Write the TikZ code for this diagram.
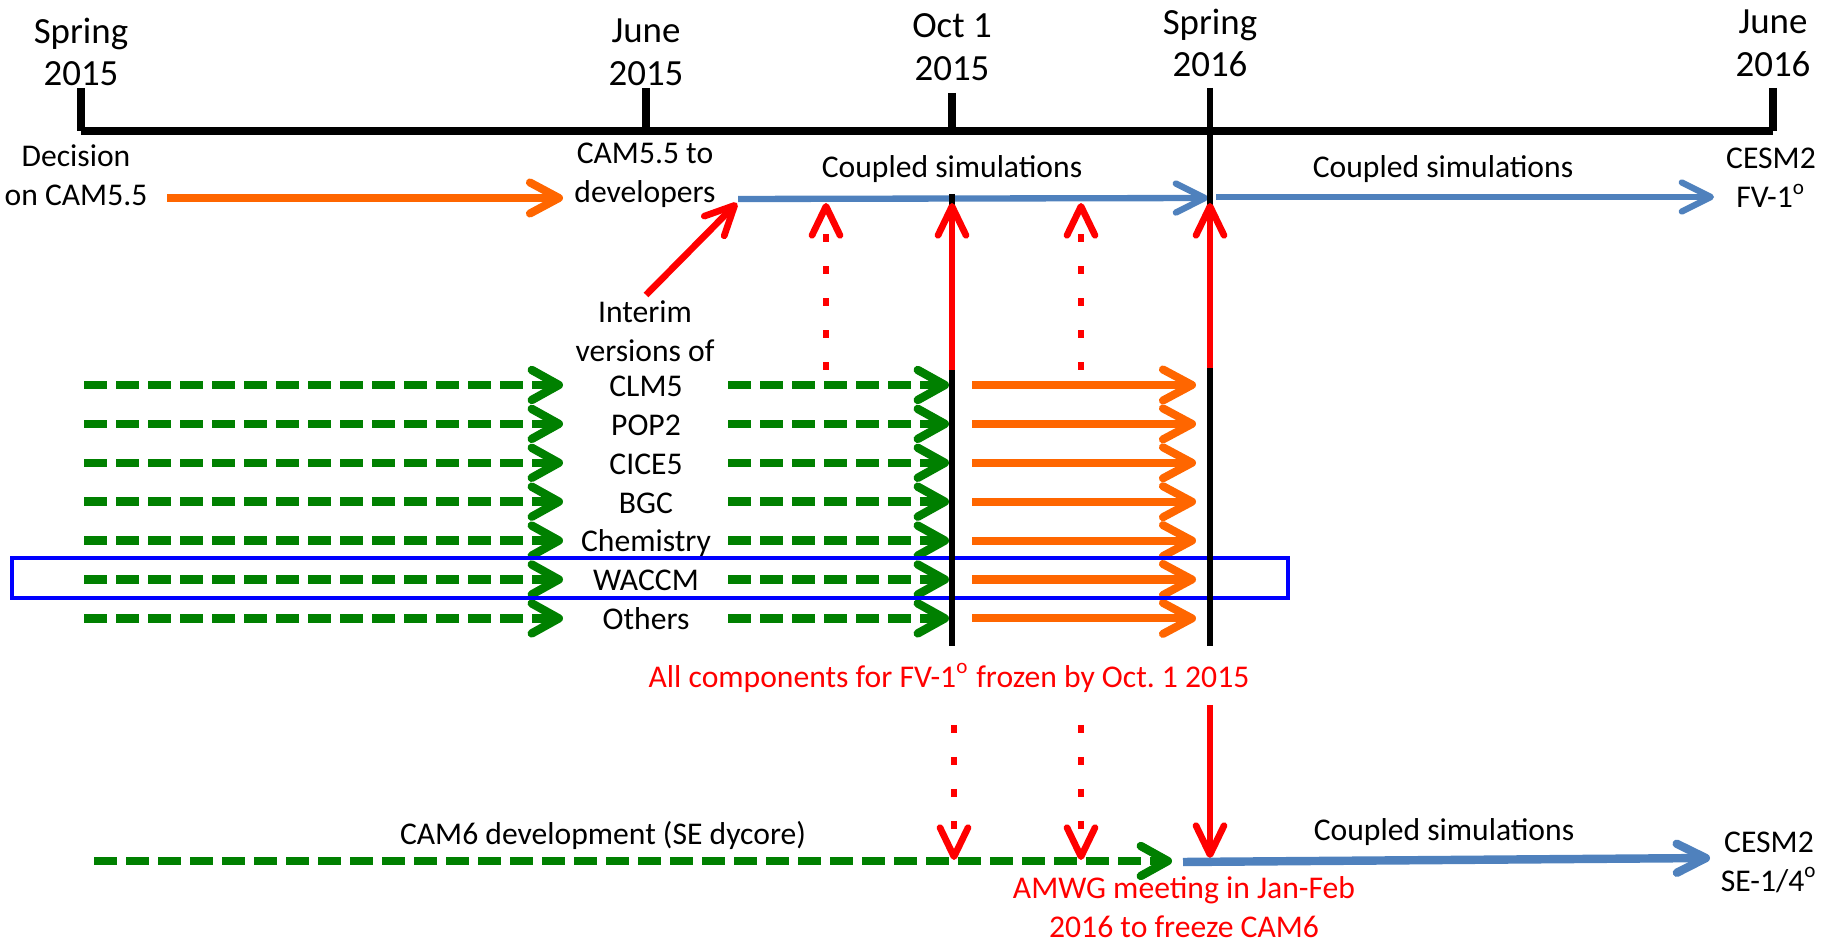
\documentclass[tikz,border=0pt]{standalone}
\usepackage{fontspec}
\setmainfont{Carlito}
\usepackage{tikz}
\usetikzlibrary{arrows.meta,calc}
\definecolor{cesmorange}{HTML}{FF6600}
\definecolor{cesmgreen}{HTML}{008000}
\definecolor{cesmblue}{HTML}{4F81BD}
\definecolor{cesmred}{HTML}{FF0000}
\definecolor{cesmbox}{HTML}{0000FF}
\frenchspacing
\tikzset{
  datelbl/.style={align=center, inner sep=0pt, font=\fontsize{10.5}{12.2}\selectfont},
  txt/.style={align=center, inner sep=0pt, font=\fontsize{9}{11.1}\selectfont},
  rowlbl/.style={txt, text height=0.644em, text depth=0pt},
  redtxt/.style={txt, text=cesmred},
  timeline/.style={line width=2.1pt, black},
  tickline/.style={line width=2.1pt, black},
  stem/.style={line width=1.8pt, black},
  devflow/.style={draw=cesmgreen, line width=2.4pt, dash pattern=on 2.3mm off 0.9mm, -{Straight Barb[length=2.7mm, width=3mm, round]}},
  relflow/.style={draw=cesmorange, line width=2.3pt, -{Straight Barb[length=2.9mm, width=3.1mm, round]}},
  simflow/.style={draw=cesmblue, line width=1.8pt, -{Straight Barb[length=2.9mm, width=2.9mm, round]}},
  freeze/.style={draw=cesmred, line width=1.9pt, -{Straight Barb[length=2.9mm, width=2.8mm, round]}},
  feed/.style={freeze, dash pattern=on 0.8mm off 2.4mm},
  focusbox/.style={draw=cesmbox, line width=1.1pt},
}
\begin{document}
\begin{tikzpicture}[x=0.1mm, y=-0.1mm]
  \useasboundingbox (0,0) rectangle (1837,944);
  \coordinate (spa) at (81,131);
  \coordinate (jna) at (646,131);
  \coordinate (oct) at (952,131);
  \coordinate (spb) at (1210,131);
  \coordinate (jnb) at (1773,131);
  \coordinate (spa top) at (81,88);
  \coordinate (jna top) at (646,88);
  \coordinate (oct top) at (952,93);
  \coordinate (spb top) at (1210,88);
  \coordinate (jnb top) at (1773,88);
  \node[datelbl] (spa lbl) at (81,52) {Spring\\2015};
  \node[datelbl] (jna lbl) at (646,52) {June\\2015};
  \node[datelbl] (oct lbl) at (952,47) {Oct 1\\2015};
  \node[datelbl] (spb lbl) at (1210,43) {Spring\\2016};
  \node[datelbl] (jnb lbl) at (1773,43) {June\\2016};
  \draw[timeline] (spa) -- (jnb);
  \foreach \n in {spa,jna,oct,jnb} \draw[tickline] (\n\space top) -- (\n);

  \node[txt] (decision) at (76,175) {Decision\\on CAM5.5};
  \node[txt] (todev) at (645,175) {CAM5.5 to\\developers};
  \node[txt] (cpla) at (952,169) {Coupled simulations};
  \node[txt] (cplb) at (1443,169) {Coupled simulations};
  \node[txt] (fv) at (1771,178) {CESM2\\FV-1\textsuperscript{o}};
  \coordinate (dec out) at (167,198);
  \coordinate (dev in) at (563,198);
  \coordinate (sima) at (738,199);
  \coordinate (simb) at (1208,198);
  \coordinate (simc) at (1216,197);
  \coordinate (simd) at (1714,197);
  \draw[relflow] (dec out) -- (dev in);
  \draw[simflow] (sima) -- (simb);
  \draw[simflow] (simc) -- (simd);

  \node[txt] (interim) at (645,331) {Interim\\versions of};
  \coordinate (int foot) at (646,295);
  \coordinate (int tip) at (737,203);
  \draw[freeze] (int foot) -- (int tip);

  \foreach \comp [count=\i] in {CLM5,POP2,CICE5,BGC,Chemistry,WACCM,Others}{
    \pgfmathsetmacro\ry{385+38.9*(\i-1)}
    \node[rowlbl] (comp\i) at (646,\ry) {\comp};
    \coordinate (dev\i) at (84,\ry);
    \coordinate (int\i) at (563,\ry);
    \coordinate (cpl\i) at (728,\ry);
    \coordinate (frz\i) at (949,\ry);
    \coordinate (rel\i) at (972,\ry);
    \coordinate (fin\i) at (1196,\ry);
    \draw[devflow] (dev\i) -- (int\i);
    \draw[devflow] (cpl\i) -- (frz\i);
    \draw[relflow] (rel\i) -- (fin\i);
  }
  \draw[focusbox] (12,558) rectangle (1288,598);

  \coordinate (oct stem) at (952,194);
  \coordinate (oct base) at (952,646);
  \coordinate (spb base) at (1210,646);
  \draw[stem] (oct stem) -- (oct base);
  \draw[stem] (spb top) -- (spb base);
  \coordinate (oct red) at (952,370);
  \coordinate (oct tip) at (952,203);
  \coordinate (spb red) at (1210,368);
  \coordinate (spb tip) at (1210,203);
  \draw[freeze] (oct red) -- (oct tip);
  \draw[freeze] (spb red) -- (spb tip);
  \foreach \x in {826,1081}{
    \coordinate (up\x) at (\x,370);
    \coordinate (uptip\x) at (\x,203);
    \draw[feed] (up\x) -- (uptip\x);
  }

  \node[redtxt] (frozen) at (949,678) {All components for FV-1\textsuperscript{o} frozen by Oct. 1 2015};
  \foreach \x in {954,1081}{
    \coordinate (dn\x) at (\x,725);
    \coordinate (dntip\x) at (\x,860);
    \draw[feed] (dn\x) -- (dntip\x);
  }
  \coordinate (amwg top) at (1210,705);
  \coordinate (amwg tip) at (1210,858);
  \draw[freeze] (amwg top) -- (amwg tip);

  \node[txt] (cam6) at (603,835) {CAM6 development (SE dycore)};
  \coordinate (cam6 start) at (94,861);
  \coordinate (cam6 end) at (1172,861);
  \draw[devflow] (cam6 start) -- (cam6 end);
  \coordinate (sea) at (1183,862);
  \coordinate (seb) at (1710,858);
  \draw[simflow, line width=2.4pt] (sea) -- (seb);
  \node[txt] (cplc) at (1444,832) {Coupled simulations};
  \node[txt] (se) at (1769,862) {CESM2\\SE-1/4\textsuperscript{o}};
  \node[redtxt] (amwg) at (1184,907) {AMWG meeting in Jan-Feb\\2016 to freeze CAM6};
\end{tikzpicture}
\end{document}
